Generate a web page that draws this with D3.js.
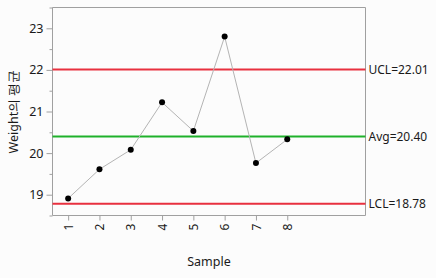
<!DOCTYPE html>
<html><head><meta charset="utf-8">
<script src="https://cdn.jsdelivr.net/npm/d3@7"></script>
<style>
html,body{margin:0;padding:0;background:#fcfcfc;}
text{font-family:"Noto Sans","Open Sans",sans-serif;}
</style></head>
<body><svg id="c" width="436" height="278"></svg>
<script>
const samples = [1,2,3,4,5,6,7,8];
const means = [18.91,19.61,20.08,21.22,20.53,22.80,19.76,20.33];
const limits = [
  {name:"UCL", value:22.01, color:"#e8303f"},
  {name:"Avg", value:20.40, color:"#1fb12b"},
  {name:"LCL", value:18.78, color:"#e8303f"}
];
const yTicks = [19,20,21,22,23];
const yMinor = [18.5,19.5,20.5,21.5,22.5,23.5];
const yLabel = "Weight의 평균";
const xLabel = "Sample";

const L=52.5, R=365.5, T=7.5, B=215.5;
const svg = d3.select("#c");
const x = d3.scaleLinear().domain([0.5,10.5]).range([L,R]);
const y = d3.scaleLinear().domain([18.5,23.5]).range([B,T]);
const grey="#a0a0a0";

// frame
svg.append("path").attr("d",`M${L},${B}V${T}H${R}V${B}H${L}`).attr("fill","none").attr("stroke",grey);

// y axis
const ya = svg.append("g").attr("transform",`translate(${L},0)`)
  .call(d3.axisLeft(y).tickValues(yTicks).tickSize(6).tickPadding(3).tickFormat(d3.format("d")));
ya.select(".domain").remove();
ya.selectAll("line").attr("stroke",grey);
ya.selectAll("text").attr("font-size",12.5).attr("fill","#1a1a1a");
const ym = svg.append("g").attr("transform",`translate(${L},0)`)
  .call(d3.axisLeft(y).tickValues(yMinor).tickSize(3).tickFormat(""));
ym.select(".domain").remove();
ym.selectAll("line").attr("stroke",grey);

// x axis
const xa = svg.append("g").attr("transform",`translate(0,${B})`)
  .call(d3.axisBottom(x).tickValues(samples).tickSize(5).tickFormat(d3.format("d")));
xa.select(".domain").remove();
xa.selectAll("line").attr("stroke",grey);
xa.selectAll("text").attr("font-size",12).attr("fill","#1a1a1a")
  .attr("transform","rotate(-90)").attr("text-anchor","end")
  .attr("x",-8).attr("y",0).attr("dy","0.35em");

// limit lines
limits.forEach(l=>{
  svg.append("line").attr("x1",L).attr("x2",R).attr("y1",y(l.value)).attr("y2",y(l.value))
    .attr("stroke",l.color).attr("stroke-width",2);
  svg.append("text").attr("x",R+3).attr("y",y(l.value)).attr("dy","0.35em")
    .attr("font-size",12).attr("fill","#1a1a1a").text(`${l.name}=${l.value.toFixed(2)}`);
});

// data
const pts = samples.map((s,i)=>[s,means[i]]);
svg.append("path").datum(pts)
  .attr("d",d3.line().x(d=>x(d[0])).y(d=>y(d[1])))
  .attr("fill","none").attr("stroke","#b4b4b4").attr("stroke-width",1);
svg.selectAll("circle.p").data(pts).join("circle").attr("class","p")
  .attr("cx",d=>x(d[0])).attr("cy",d=>y(d[1])).attr("r",3).attr("fill","#000");

// labels
svg.append("text").attr("transform",`translate(14,${(T+B)/2}) rotate(-90)`)
  .attr("text-anchor","middle").attr("dy","0.35em").attr("font-size",12.5).attr("fill","#1a1a1a").text(yLabel);
svg.append("text").attr("x",(L+R)/2).attr("y",266).attr("text-anchor","middle")
  .attr("font-size",12.5).attr("fill","#1a1a1a").text(xLabel);
</script></body></html>
